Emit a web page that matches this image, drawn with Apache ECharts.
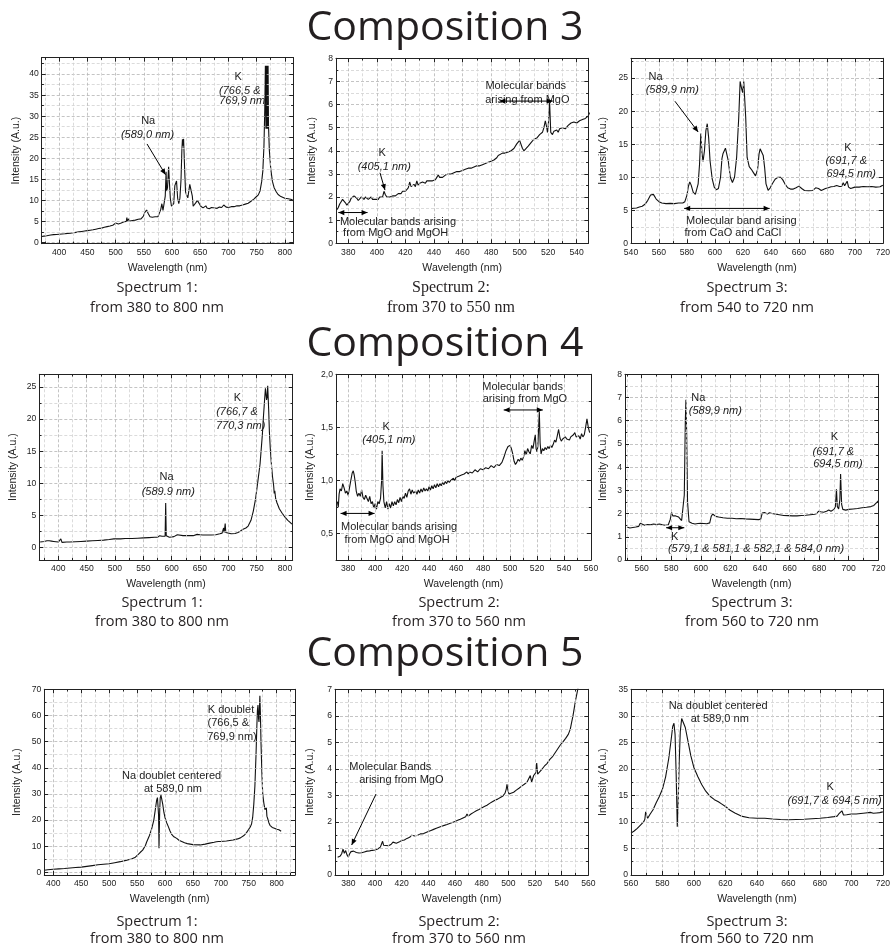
<!DOCTYPE html>
<html><head><meta charset="utf-8">
<script src="https://cdn.jsdelivr.net/npm/echarts@6/dist/echarts.min.js"></script>
<style>html,body{margin:0;padding:0;background:#fff}#c{width:893px;height:950px}</style>
</head><body><div id="c"></div>
<script>
// ---------------- DATA (wavelength nm, intensity a.u.) ----------------
const c3_spec1 = [[369,1.4],[371,1.6],[373,1.5],[375,1.7],[378,1.6],[381,1.8],[385,1.75],[390,1.85],[395,1.9],[400,1.95],[405,2.0],[410,2.05],[415,2.15],[420,2.2],[425,2.3],[430,2.4],[435,2.5],[440,2.6],[445,2.7],[450,2.8],[455,2.9],[460,3.0],[465,3.15],[470,3.3],[475,3.4],[480,3.6],[485,3.75],[490,3.9],[495,4.1],[498,4.4],[500,4.6],[502,4.2],[505,4.4],[510,4.6],[515,4.9],[519,5.0],[520,5.9],[521,5.0],[523,5.6],[525,5.1],[530,5.2],[535,5.3],[540,5.5],[545,5.6],[549,6.2],[552,7.2],[555,7.7],[558,6.8],[561,6.1],[565,6.0],[570,6.1],[575,6.1],[578,6.4],[580,7.8],[582,9.2],[584,7.6],[586,7.8],[588,11],[589.5,16.8],[590.5,12.2],[592,13],[594,18],[595.5,14],[597,10.5],[599,8.6],[601,8.3],[603,9.2],[605,13.5],[606.5,13.8],[608,14.6],[610,10.5],[612,9.2],[614,10.5],[616,15],[617.5,22],[618.5,24.5],[619.5,23],[620.5,24.6],[621.5,24.4],[622.5,17],[624,12],[626,11.2],[628,10.6],[630,11],[631.5,13.8],[632.5,14.2],[634,13.5],[636,11],[637.5,8.6],[639,8.2],[642,9.4],[645,10],[648,9.6],[651,8.6],[655,8.2],[658,8.4],[660,8.7],[662,8.2],[666,8.0],[670,8.3],[673,7.9],[676,8.2],[680,8.1],[684,8.4],[688,8.3],[691.7,8.9],[693,8.5],[694.5,9.3],[696,8.4],[700,8.3],[705,8.5],[710,8.5],[715,8.7],[720,8.7],[725,8.9],[730,9.1],[735,9.3],[740,9.8],[745,10.3],[749,10.8],[753,11.3],[756,12.2],[759,14.5],[761,17],[763,23],[764.5,32],[765.5,42],[766.5,27],[767.2,42],[768,27],[768.8,42],[769.6,27],[770.3,42],[771,28],[772.5,22],[775,17.5],[778,14.5],[781,13],[785,12],[788,11.4],[790,11.6],[793,10.9],[796,10.8],[800,10.5],[803,10.3],[806,10.4],[809,10.1],[812,10.2],[815,9.9]];

const c3_spec2 = [[372,1.45],[373,1.55],[374,1.7],[375,1.8],[376,1.9],[377,1.85],[378,1.75],[379,1.65],[380,1.7],[381,1.8],[382,1.95],[383,2.0],[384,2.05],[385,2.0],[386,1.95],[387,1.85],[388,1.9],[389,2.0],[390,1.95],[391,1.9],[392,2.0],[393,1.95],[394,1.9],[395,1.95],[396,2.0],[397,1.9],[398,1.95],[399,1.9],[400,1.95],[401,1.9],[402,2.0],[403,2.05],[404,2.0],[405,2.25],[406,2.1],[407,2.0],[408,1.95],[409,2.0],[410,2.0],[411,2.05],[412,2.1],[413,2.05],[414,2.1],[415,2.15],[416,2.2],[417,2.15],[418,2.25],[419,2.2],[420,2.25],[421,2.3],[422,2.4],[423,2.65],[424,2.45],[425,2.4],[426,2.55],[427,2.45],[428,2.7],[429,2.5],[430,2.6],[431,2.55],[432,2.65],[433,2.7],[434,2.6],[435,2.7],[436,2.65],[437,2.7],[438,2.75],[439,2.7],[440,2.7],[441,2.75],[442,2.85],[443,2.95],[444,2.85],[445,2.9],[446,2.85],[447,2.9],[448,2.95],[450,3.0],[452,3.0],[454,3.05],[456,3.1],[458,3.1],[460,3.15],[462,3.2],[464,3.25],[466,3.25],[468,3.3],[470,3.35],[472,3.35],[474,3.4],[476,3.45],[478,3.5],[480,3.55],[482,3.6],[484,3.7],[485,3.8],[486,3.85],[488,3.9],[490,3.9],[492,3.95],[494,4.0],[496,4.1],[498,4.3],[499,4.35],[500,4.45],[501,4.5],[502,4.1],[503,4.0],[504,4.05],[506,4.2],[508,4.35],[510,4.5],[512,4.55],[514,4.7],[516,4.8],[517,5.0],[518,5.3],[519,5.0],[519.5,4.8],[520,5.0],[521,6.1],[521.8,4.8],[523,4.7],[524,4.85],[526,4.9],[527,4.8],[528,4.95],[530,5.0],[532,4.95],[534,5.1],[536,5.2],[538,5.25],[540,5.2],[542,5.3],[544,5.35],[546,5.4],[548,5.5],[549,5.65]];

const c3_spec3 = [[540,5.25],[542,5.3],[544,5.35],[546,5.5],[548,5.6],[550,5.9],[552,6.5],[554,7.3],[555,7.6],[556,7.4],[558,6.7],[560,6.3],[562,6.1],[565,6.0],[568,6.05],[571,6.0],[574,6.1],[577,6.1],[578.5,6.3],[580,7.3],[581,8.6],[582,9.3],[583,8.8],[584.5,7.7],[586,7.4],[587,7.6],[588,9],[589,12],[589.9,16.6],[590.8,13.5],[591.5,12.4],[592.5,14],[593.5,17],[594.5,18.1],[595.5,16],[596.5,12.5],[598,9.8],[599.5,8.5],[601,8.1],[602.5,8.3],[604,10],[605,12.8],[605.8,13.6],[606.6,13.4],[607.5,14.4],[608.3,14.7],[609.5,12.5],[611,10],[612.5,9.2],[614,10],[615.5,13],[617,19],[618,24.5],[619,23.5],[619.8,22.8],[620.6,24.5],[621.3,24.5],[622,19],[623,13],[624.5,11.6],[626,11.2],[627.5,10.7],[629,10.2],[630.5,11.2],[631.5,13.5],[632.3,14.3],[633.5,14],[634.5,13.3],[635.5,11.5],[636.5,9],[638,8],[639.5,8.4],[641,9],[643,9.7],[645,10],[647,10],[648.5,9.6],[650,9],[652,8.4],[654,8.2],[656,8.2],[658,8.4],[660,8.65],[662,8.3],[664,8.0],[667,7.95],[670,8.0],[672,8.4],[674,8.3],[676,8.0],[677,7.85],[679,8.3],[681,8.4],[683,8.55],[685,8.6],[687,8.75],[689,8.6],[690.5,8.6],[691.7,9.15],[692.7,8.7],[693.5,8.9],[694.5,9.4],[695.5,8.5],[697,8.3],[700,8.5],[703,8.5],[706,8.6],[709,8.55],[712,8.6],[715,8.5],[718,8.55],[720,8.8]];

const c4_spec1 = [[368,0.8],[371,0.85],[375,0.9],[378,0.9],[380,1.0],[382,1.15],[384,1.0],[388,0.95],[392,0.9],[396,0.85],[400,0.8],[403,0.75],[404.5,1.3],[405.5,1.4],[406.5,0.75],[410,0.75],[415,0.8],[420,0.8],[430,0.85],[440,0.9],[450,0.95],[460,1.0],[470,1.05],[480,1.1],[490,1.2],[498,1.3],[500,1.4],[502,1.3],[510,1.3],[518,1.35],[521,1.6],[523,1.35],[530,1.35],[540,1.4],[550,1.45],[560,1.5],[570,1.55],[575,1.55],[579,1.8],[581,1.9],[583,1.7],[586,1.6],[588.5,1.7],[589.5,6.9],[590.5,1.8],[592,1.55],[596,1.55],[600,1.6],[604,1.65],[607,1.9],[610,1.95],[613,1.85],[620,1.8],[630,1.8],[638,1.8],[641,2.05],[645,2.0],[650,1.95],[655,1.9],[660,1.9],[670,1.9],[678,1.95],[680,2.05],[685,2.1],[689,2.2],[690.5,2.2],[691.7,3.0],[692.7,2.3],[693.5,2.5],[694.5,3.7],[695.5,2.3],[698,2.1],[705,2.1],[712,2.15],[717,2.3],[721,2.5],[726,2.8],[731,3.0],[735,3.3],[740,4.2],[744,5.6],[748,7.5],[752,10.2],[756,13],[760,17.5],[762,20.4],[764,23],[765.5,24.8],[766.7,25],[767.5,23],[768.5,23.5],[769.5,25.2],[770.3,25.5],[771.2,21.5],[772.5,18],[774,15.5],[776,13],[778,11],[780,9.6],[781,8.4],[782,8.8],[783.5,7.6],[786,6.9],[790,6.0],[795,5.3],[800,4.7],[805,4.2],[810,3.8],[812,3.6]];

const c4_spec2 = [[372,0.8],[372.7,0.75],[373.3,0.87],[374,0.92],[375,0.9],[376,0.97],[377,0.93],[378,0.88],[379,0.9],[380,0.86],[381,0.93],[382,1.0],[383,1.07],[383.8,1.09],[384.5,1.05],[385.3,0.98],[386,0.9],[387,0.85],[388,0.88],[389,0.85],[390,0.91],[391,0.84],[392,0.82],[393,0.86],[394,0.83],[395,0.8],[396,0.85],[397,0.78],[398,0.8],[399,0.74],[400,0.78],[401,0.73],[402,0.8],[403,0.78],[404,0.83],[404.8,1.0],[405.2,1.28],[405.8,0.95],[406.5,0.8],[407.5,0.74],[408.5,0.8],[409.5,0.73],[410.5,0.78],[411.5,0.74],[412.5,0.8],[413.5,0.76],[414.5,0.8],[415.5,0.77],[416.5,0.82],[417.5,0.79],[418.5,0.84],[419.5,0.8],[420.5,0.85],[421.5,0.83],[422.5,0.88],[423.5,0.84],[424.5,0.9],[425.5,0.92],[426.5,0.87],[427.5,0.91],[428.5,0.88],[430,0.9],[431,0.87],[432,0.91],[433,0.88],[434,0.92],[435,0.89],[436,0.93],[437,0.9],[438,0.92],[439,0.9],[440,0.94],[441,0.91],[442,0.95],[443,0.92],[444,0.96],[445,0.93],[446,0.97],[447,0.94],[448,0.97],[449,0.95],[450,0.98],[451,0.96],[452,0.99],[453,0.97],[454,1.0],[455,0.98],[456,1.0],[457,0.99],[458,1.02],[459,1.0],[460,1.03],[461,1.02],[462,1.04],[463,1.03],[464,1.05],[465,1.04],[466,1.06],[467,1.05],[468,1.08],[469,1.06],[470,1.08],[472,1.07],[474,1.1],[476,1.08],[478,1.11],[480,1.1],[482,1.12],[484,1.11],[486,1.14],[488,1.12],[490,1.15],[492,1.14],[494,1.17],[495.5,1.22],[497,1.28],[498.5,1.32],[500,1.33],[501,1.3],[502,1.25],[503,1.18],[504,1.15],[505,1.17],[506,1.2],[507,1.18],[508,1.21],[509,1.19],[510,1.22],[511,1.28],[512,1.24],[513,1.3],[514,1.27],[515,1.25],[516,1.33],[517,1.3],[518,1.38],[518.7,1.43],[519.3,1.3],[520,1.27],[520.6,1.32],[521.2,1.5],[521.7,1.65],[522.3,1.35],[523,1.25],[524,1.3],[525,1.28],[526,1.31],[527,1.29],[528,1.32],[529,1.3],[530,1.33],[531,1.31],[532,1.34],[533,1.38],[534,1.36],[535,1.42],[536,1.48],[537,1.4],[538,1.37],[539,1.39],[540,1.38],[541,1.41],[542,1.39],[543,1.4],[544,1.38],[545,1.41],[546,1.4],[547,1.43],[548,1.45],[549,1.41],[550,1.4],[551,1.42],[552,1.39],[553,1.44],[554,1.41],[555,1.43],[556,1.5],[557,1.58],[558,1.5],[559,1.45]];

const c4_spec3 = [[550,1.42],[552,1.38],[554,1.4],[556,1.42],[558,1.45],[559,1.58],[560,1.52],[562,1.5],[564,1.53],[566,1.52],[568,1.55],[570,1.53],[572,1.55],[574,1.52],[576,1.5],[578,1.52],[579.3,1.75],[580.2,2.05],[581,1.9],[582,1.85],[583,1.9],[584,1.88],[585,1.85],[586,1.78],[587,1.7],[588,1.75],[588.8,2.8],[589.5,6.0],[589.9,6.9],[590.4,5.5],[591,2.5],[592,1.65],[594,1.58],[596,1.55],[598,1.57],[600,1.58],[602,1.57],[604,1.56],[606,1.6],[607,1.88],[608,1.98],[609,1.92],[610,1.88],[612,1.85],[615,1.82],[618,1.8],[621,1.8],[624,1.78],[627,1.79],[630,1.77],[633,1.76],[636,1.75],[639,1.74],[640.5,1.76],[641.5,2.02],[643,2.05],[645,1.98],[646.5,2.04],[648,2.0],[650,1.98],[653,1.95],[656,1.92],[659,1.91],[662,1.9],[665,1.9],[668,1.92],[671,1.93],[674,1.95],[677,1.97],[678.5,2.0],[679.5,2.1],[681,2.08],[683,2.06],[685,2.1],[686.5,2.15],[688,2.1],[690,2.18],[691,2.3],[691.7,3.05],[692.3,2.3],[693.2,2.2],[694,2.6],[694.5,3.7],[695.2,2.4],[696,2.18],[698,2.15],[700,2.18],[703,2.2],[706,2.22],[709,2.25],[712,2.27],[715,2.3],[717,2.35],[718.5,2.45],[720,2.55]];

const c5_spec1 = [[384,0.8],[390,1.0],[400,1.2],[410,1.35],[420,1.5],[430,1.7],[440,1.85],[450,2.0],[460,2.3],[470,2.6],[480,2.9],[490,3.1],[500,3.3],[510,3.7],[520,4.1],[530,4.6],[540,5.1],[547,5.8],[550,6.3],[555,7.5],[560,8.5],[565,10.3],[567,11.5],[569,12],[572,14],[576,16.5],[580,20],[583,24.5],[585,27.5],[586.5,28.6],[587.7,28],[588.5,22],[589.3,9.2],[589.9,17],[590.6,24],[591.5,28.5],[592.8,29.5],[594,28.8],[596,26],[598,23],[600,21],[603,19],[606,17.5],[609,15.8],[612,14.5],[616,13.6],[621,13],[625,12.3],[630,11.8],[635,11.3],[640,11.0],[650,10.6],[663,10.5],[672,10.8],[680,11.2],[688,11.5],[692,11.7],[694.5,12.4],[696,11.8],[700,11.8],[710,12.0],[722,12.4],[730,12.8],[735,13.2],[742,14.2],[746,15.2],[750,16.5],[753,17.5],[755,18.5],[757,21],[759,26],[761,33],[763,45],[764.5,56],[765.5,62],[766.5,64],[767.5,59],[768.3,57.5],[769.2,63],[769.9,67.5],[770.8,61],[772,49],[773.5,38],[775,30],[777,26.5],[779,24],[780.5,23.5],[781.5,24.8],[782.5,21.5],[784,20.5],[786,19],[788,18],[790,17.5],[792,17.2],[794,16.5],[796,16.9],[798,16.2],[800,16.5],[802,16],[804,16.3],[806,15.8],[808,15.7]];

const c5_spec2 = [[372,0.67],[373,0.62],[374,0.72],[375,0.8],[376,0.97],[377,0.82],[378,0.92],[379,0.76],[380,0.68],[381,0.8],[382,0.88],[383,0.82],[384,0.9],[385,0.92],[386,0.85],[387,0.8],[388,0.83],[389,0.86],[390,0.84],[392,0.87],[394,0.9],[396,0.91],[398,0.93],[400,0.94],[402,0.98],[404,1.05],[405,1.12],[405.7,1.27],[406.5,1.12],[408,1.08],[410,1.1],[412,1.15],[413.5,1.24],[414.5,1.17],[416,1.2],[418,1.24],[420,1.3],[422,1.32],[424,1.38],[426,1.42],[427.5,1.5],[428.5,1.43],[430,1.47],[432,1.5],[434,1.55],[435.5,1.62],[436.5,1.56],[438,1.6],[440,1.64],[442,1.68],[444,1.72],[446,1.76],[448,1.8],[450,1.84],[452,1.87],[454,1.9],[456,1.94],[458,1.98],[460,2.02],[462,2.06],[464,2.1],[466,2.15],[468,2.2],[469,2.3],[470,2.22],[472,2.3],[474,2.36],[476,2.42],[478,2.47],[480,2.53],[482,2.58],[484,2.63],[486,2.7],[488,2.76],[490,2.82],[492,2.86],[494,2.92],[496,2.98],[497.5,3.08],[498.5,3.25],[499,3.42],[499.7,3.2],[500.5,3.05],[502,3.1],[504,3.12],[506,3.2],[508,3.27],[510,3.35],[512,3.42],[514,3.5],[515.5,3.55],[516.5,3.75],[517.5,3.5],[519,3.75],[520.5,3.85],[521.3,4.22],[522,3.8],[523,3.85],[525,3.97],[527,4.1],[529,4.2],[531,4.35],[533,4.45],[535,4.6],[537,4.75],[539,4.9],[541,5.02],[543,5.15],[545,5.3],[546.5,5.5],[547.5,5.75],[548.5,6.0],[549.5,6.3],[550.5,6.6],[551.5,6.85],[552.5,7.1]];

const c5_spec3 = [[560,7.9],[562,8.3],[564,8.8],[566,9.4],[568,10.0],[568.8,10.5],[569.3,11.9],[569.9,11.2],[570.6,10.7],[572,11.4],[574,12.3],[576,13.6],[578,14.8],[580,16.2],[582,18.5],[584,22],[585.5,25.5],[586.5,28],[587.3,28.6],[588,26.5],[588.7,19],[589.4,9.1],[589.9,13],[590.6,21],[591.3,27],[592.2,29.5],[593,29.3],[594.5,27.8],[596,25.5],[598,22.5],[600,20.2],[602.5,18.5],[605,17],[607.5,15.8],[610,14.9],[613,14.2],[615.5,13.8],[616.5,13.9],[617.5,13.4],[620,12.9],[623,12.2],[626,11.7],[630,11.1],[635,10.8],[640,10.7],[645,10.7],[650,10.55],[655,10.45],[660,10.4],[665,10.45],[670,10.5],[675,10.6],[680,10.7],[685,10.85],[689,11.0],[691,11.1],[692,11.5],[693,11.2],[694,12.1],[695,11.3],[697,11.35],[700,11.5],[703,11.5],[706,11.6],[709,11.7],[712,11.8],[714,11.65],[716,11.7],[718,11.75],[720,11.9]];

const titles = ['Composition 3', 'Composition 4', 'Composition 5'];
const captionsTop = ['Spectrum 1:', 'Spectrum 2:', 'Spectrum 3:'];
const captionsBottom = [
  ['from 380 to 800 nm', 'from 370 to 550 nm', 'from 540 to 720 nm'],
  ['from 380 to 800 nm', 'from 370 to 560 nm', 'from 560 to 720 nm'],
  ['from 380 to 800 nm', 'from 370 to 560 nm', 'from 560 to 720 nm']
];
const xName = 'Wavelength (nm)';
const yName = 'Intensity (A.u.)';

// ---------------- LAYOUT / AXES ----------------
const panels = [
  {data:c3_spec1, g:[41.7,57.7,251.6,186], x:[369,815,50], y:[-0.3,43.9,5], yGap:20},
  {data:c3_spec2, g:[336,58.3,252.3,185], x:[371.4,548.1,20], y:[0,8,1], yGap:18},
  {data:c3_spec3, g:[631,58.3,252.3,185], x:[540,720,20], y:[0,28,5], yGap:22},
  {data:c4_spec1, g:[39.3,374.3,253.4,185.7], x:[366.5,813.6,50], y:[-2,27,5], yGap:21},
  {data:c4_spec2, g:[336,374.3,255,185.7], x:[371,560,20], y:[0.25,2.0,0.5], yGap:20, comma:true},
  {data:c4_spec3, g:[625,374.3,253.3,185.7], x:[548.7,720,20], y:[0,8,1], yGap:16},
  {data:c5_spec1, g:[44.3,689.3,250.7,185.7], x:[383.9,832.8,50], y:[-1,70,10], yGap:22},
  {data:c5_spec2, g:[335,689.3,253.3,185.7], x:[370,560,20], y:[0,7,1], yGap:19},
  {data:c5_spec3, g:[631,689.3,253,185.7], x:[560,720,20], y:[0,35,5], yGap:22}
];

const SANS = '"Liberation Sans", Arial, sans-serif';
const TXT = '#222';

function fmt(iv, comma) {
  return function (v) {
    const k = v / iv;
    if (Math.abs(k - Math.round(k)) > 1e-6) return '';
    return comma ? v.toFixed(1).replace('.', ',') : String(Math.round(v));
  };
}

function axis(i, r, pos, main, opts) {
  const a = {
    type: 'value', gridIndex: i, position: pos,
    min: r[0], max: r[1], minInterval: r[2], maxInterval: r[2],
    splitNumber: Math.max(1, Math.round((r[1] - r[0]) / r[2])),
    axisLine: {show: true, onZero: false, lineStyle: {color: '#222', width: 1}},
    axisTick: {show: true, inside: true, length: 4, lineStyle: {color: '#222', width: 1}},
    minorTick: {show: true, splitNumber: 2, length: 2.2, lineStyle: {color: '#222', width: 1}},
    splitLine: {show: main, lineStyle: {color: '#b5b5b5', type: [3, 2], width: 0.8}},
    minorSplitLine: {show: main, lineStyle: {color: '#d2d2d2', type: [3, 2], width: 0.8}},
    axisLabel: {show: main, fontSize: 8.6, color: TXT, fontFamily: SANS, margin: opts.margin || 4,
      formatter: fmt(r[2], opts.comma), hideOverlap: false},
    z: 5
  };
  if (main) {
    a.name = opts.name;
    a.nameLocation = 'middle';
    a.nameGap = opts.gap;
    a.nameTextStyle = {fontSize: 10.5, color: TXT, fontFamily: SANS};
  }
  return a;
}

const grids = [], xAxes = [], yAxes = [], series = [];
panels.forEach((p, i) => {
  grids.push({left: p.g[0], top: p.g[1], width: p.g[2], height: p.g[3], show: false, containLabel: false});
  xAxes.push(axis(i, p.x, 'bottom', true, {name: xName, gap: 19, margin: 4.5}));
  xAxes.push(axis(i, p.x, 'top', false, {}));
  yAxes.push(axis(i, p.y, 'left', true, {name: yName, gap: p.yGap, margin: 3, comma: p.comma}));
  yAxes.push(axis(i, p.y, 'right', false, {}));
  series.push({
    type: 'line', xAxisIndex: 2 * i, yAxisIndex: 2 * i, data: p.data,
    showSymbol: false, symbol: 'none', silent: true, clip: true, z: 3,
    lineStyle: {color: '#111', width: 1.1}
  });
});

// ---------------- ANNOTATIONS (data coordinates) ----------------
// [panel, text, x, y, italic]
const notes = [
  [0,'Na',557.8,28.9],[0,'(589,0 nm)',556.6,25.5,1],[0,'K',717.3,39.4],[0,'(766,5 &',720.2,36.0,1],[0,'769,9 nm)',727.6,33.6,1],
  [1,'Molecular bands',504.3,6.8],[1,'arising from MgO',505.4,6.2],[1,'K',403.8,3.92],[1,'(405,1 nm)',405.2,3.29,1],
  [1,'Molecular bands arising',414.8,0.94],[1,'from MgO and MgOH',413.2,0.46],
  [2,'Na',557.6,25.25],[2,'(589,9 nm)',569.5,23.2,1],[2,'K',695,14.5],[2,'(691,7 &',693.8,12.4,1],[2,'694,5 nm)',697.4,10.56,1],
  [2,'Molecular band arising',618.9,3.42],[2,'from CaO and CaCl',612.8,1.5],
  [3,'Na',591.2,11.0],[3,'(589.9 nm)',594.1,8.6,1],[3,'K',715.9,23.3],[3,'(766,7 &',715.3,21.1,1],[3,'770,3 nm)',721.8,19.0,1],
  [4,'Molecular bands',509.3,1.884],[4,'arising from MgO',511,1.764],[4,'K',408.2,1.506],[4,'(405,1 nm)',410.2,1.38,1],
  [4,'Molecular bands arising',417.8,0.563],[4,'from MgO and MgOH',416.3,0.443],
  [5,'Na',598.3,7.0],[5,'(589,9 nm)',609.8,6.42,1],[5,'K',690.3,5.29],[5,'(691,7 &',689.6,4.67,1],[5,'694,5 nm)',692.7,4.12,1],
  [5,'K',582.3,1.0],[5,'(579,1 & 581,1 & 582,1 & 584,0 nm)',637.3,0.46,1],
  [6,'K doublet',718.2,62.1],[6,'(766,5 &',713.4,57.0],[6,'769,9 nm)',720,51.9],[6,'Na doublet centered',611.9,36.8],[6,'at 589,0 nm',614.3,31.9],
  [7,'Molecular Bands',411.5,4.08],[7,'arising from MgO',419.75,3.58],
  [8,'Na doublet centered',615.4,31.9],[8,'at 589,0 nm',616.4,29.4],[8,'K',686.6,16.66],[8,'(691,7 & 694,5 nm)',689.4,14.0,1]
];
// [panel, x1, y1, x2, y2, doubleHeaded]
const arrows = [
  [0,555.7,23.4,588.5,16.1,0],
  [1,485.8,6.15,523.2,6.15,1],[1,402.2,3.05,405.7,2.3,0],[1,373,1.33,393.5,1.33,1],
  [2,571.4,21.5,588,16.85,0],[2,578,5.28,639.1,5.28,1],
  [4,495.3,1.664,524.3,1.664,1],[4,374.4,0.689,399.6,0.689,1],
  [5,576.5,1.39,588.8,1.39,1],
  [7,400.75,3.05,382.5,1.13,0]
];

const chart = echarts.init(document.getElementById('c'), null, {renderer: 'canvas'});
chart.setOption({
  animation: false, backgroundColor: '#fff',
  grid: grids, xAxis: xAxes, yAxis: yAxes, series: series
});

function px(i, x, y) {
  return chart.convertToPixel({xAxisIndex: 2 * i, yAxisIndex: 2 * i}, [x, y]);
}

const gfx = [];
// titles
const titleY = [28, 344, 654];
titles.forEach((t, r) => gfx.push({type: 'text', x: 445, y: titleY[r], style: {text: t, fill: '#231f20',
  font: '41px "Open Sans", "Noto Sans", sans-serif', textAlign: 'center', textVerticalAlign: 'middle'}}));
// captions
const capX = [[157, 451, 747], [162, 459, 752], [157, 459, 747]];
const capY = [[288, 308], [603, 622], [922, 939]];
for (let r = 0; r < 3; r++) {
  for (let c = 0; c < 3; c++) {
    const serif = (r === 0 && c === 1);
    const font = serif ? '16px "Liberation Serif", "Times New Roman", serif' : '14.5px "Open Sans", "Noto Sans", sans-serif';
    gfx.push({type: 'text', x: capX[r][c], y: capY[r][0], style: {text: captionsTop[c], fill: '#231f20', font: font, textAlign: 'center', textVerticalAlign: 'middle'}});
    gfx.push({type: 'text', x: capX[r][c], y: capY[r][1], style: {text: captionsBottom[r][c], fill: '#231f20', font: font, textAlign: 'center', textVerticalAlign: 'middle'}});
  }
}
// annotation texts
notes.forEach(n => {
  const p = px(n[0], n[2], n[3]);
  gfx.push({type: 'text', x: p[0], y: p[1], z: 20, style: {text: n[1], fill: TXT,
    font: (n[4] ? 'italic ' : '') + '11px ' + SANS, textAlign: 'center', textVerticalAlign: 'middle'}});
});
// arrows
function head(tip, from) {
  const dx = tip[0] - from[0], dy = tip[1] - from[1];
  const L = Math.sqrt(dx * dx + dy * dy) || 1;
  const ux = dx / L, uy = dy / L, hl = 6, hw = 2.6;
  const bx = tip[0] - ux * hl, by = tip[1] - uy * hl;
  return {type: 'polygon', z: 20, shape: {points: [[tip[0], tip[1]], [bx - uy * hw, by + ux * hw], [bx + uy * hw, by - ux * hw]]}, style: {fill: '#000'}};
}
arrows.forEach(a => {
  const p1 = px(a[0], a[1], a[2]), p2 = px(a[0], a[3], a[4]);
  gfx.push({type: 'line', z: 20, shape: {x1: p1[0], y1: p1[1], x2: p2[0], y2: p2[1]}, style: {stroke: '#000', lineWidth: 1}});
  gfx.push(head(p2, p1));
  if (a[5]) gfx.push(head(p1, p2));
});
chart.setOption({graphic: gfx});
</script></body></html>
